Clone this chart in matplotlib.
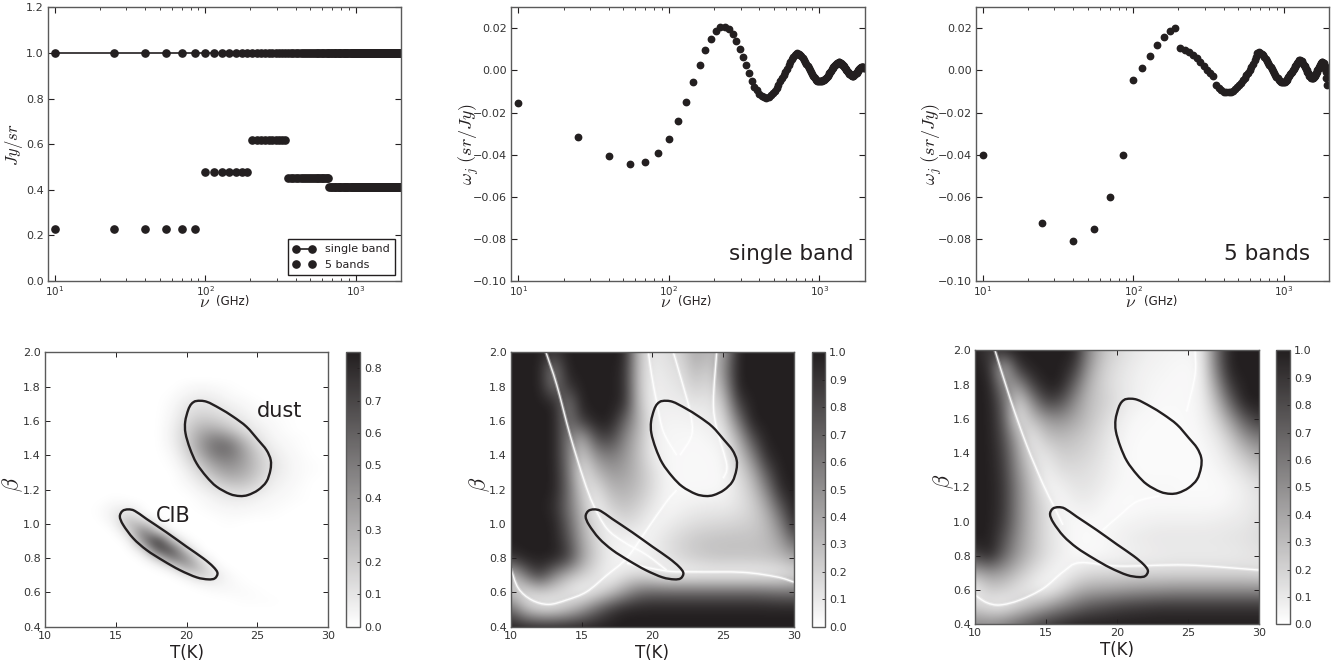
import numpy as np
import matplotlib
matplotlib.use("Agg")
import matplotlib.pyplot as plt
from matplotlib.colors import LinearSegmentedColormap
from matplotlib.path import Path
from matplotlib.patches import PathPatch
from matplotlib.ticker import FuncFormatter

INK = '#231f20'
EDGE = '#5a5a5a'
plt.rcParams.update({'font.family': 'DejaVu Sans', 'mathtext.fontset': 'cm', 'mathtext.default': 'it',
                     'text.color': INK, 'axes.labelcolor': INK, 'xtick.labelcolor': '#333333',
                     'ytick.labelcolor': '#333333', 'xtick.color': INK, 'ytick.color': INK,
                     'xtick.direction': 'in', 'ytick.direction': 'in', 'xtick.top': True, 'ytick.right': True,
                     'axes.edgecolor': EDGE, 'axes.linewidth': 1.0})

nu = [10,25,40,55,70,85,100,115,130,145,
      160,175,190,205,220,235,250,265,280,295,
      310,325,340,355,370,385,400,415,430,445,
      460,475,490,505,520,535,550,565,580,595,
      610,625,640,655,670,685,700,715,730,745,
      760,775,790,805,820,835,850,865,880,895,
      910,925,940,955,970,985,1000,1015,1030,1045,
      1060,1075,1090,1105,1120,1135,1150,1165,1180,1195,
      1210,1225,1240,1255,1270,1285,1300,1315,1330,1345,
      1360,1375,1390,1405,1420,1435,1450,1465,1480,1495,
      1510,1525,1540,1555,1570,1585,1600,1615,1630,1645,
      1660,1675,1690,1705,1720,1735,1750,1765,1780,1795,
      1810,1825,1840,1855,1870,1885,1900,1915,1930,1945,
      1960,1975,1990]
band_values = [0.228, 0.477, 0.617, 0.45, 0.41]
band_counts = [6, 7, 10, 21, 89]

w_single = [-.0155,-.0316,-.0408,-.0444,-.0437,-.0392,-.0324,-.0238,-.0148,-.0057,
            .0025,.0095,.0149,.0186,.0205,.0206,.0198,.0171,.0140,.0103,
            .0063,.0024,-.0014,-.0048,-.0078,-.0095,-.0110,-.0121,-.0128,-.0129,
            -.0126,-.0118,-.0108,-.0096,-.0082,-.0067,-.0051,-.0036,-.0020,-.0005,
            .0009,.0025,.0041,.0054,.0065,.0074,.0079,.0081,.0078,.0073,
            .0067,.0059,.0050,.0040,.0030,.0020,.0011,.0002,-.0007,-.0016,
            -.0024,-.0031,-.0037,-.0043,-.0048,-.0051,-.0052,-.0052,-.0052,-.0050,
            -.0047,-.0044,-.0040,-.0035,-.0030,-.0025,-.0019,-.0013,-.0007,-.0001,
            .0005,.0011,.0016,.0021,.0026,.0030,.0033,.0036,.0037,.0038,
            .0038,.0037,.0035,.0032,.0028,.0024,.0020,.0016,.0011,.0007,
            .0003,-.0001,-.0005,-.0009,-.0013,-.0016,-.0019,-.0021,-.0023,-.0024,
            -.0024,-.0024,-.0023,-.0021,-.0019,-.0016,-.0013,-.0010,-.0006,-.0002,
            .0002,.0005,.0008,.0011,.0013,.0014,.0015,.0016,.0016,.0016,
            .0015,.0014,.0013]
w_five = [-.0403,-.0724,-.0810,-.0751,-.0603,-.0402,-.0044,.0014,.0071,.0121,
          .0159,.0186,.0200,.0106,.0097,.0086,.0073,.0057,.0040,.0021,
          .0000,-.0014,-.0027,-.0071,-.0083,-.0093,-.0100,-.0103,-.0103,-.0101,
          -.0096,-.0089,-.0080,-.0070,-.0059,-.0047,-.0035,-.0023,-.0011,.0001,
          .0017,.0033,.0050,.0062,.0082,.0086,.0083,.0078,.0072,.0065,
          .0056,.0047,.0037,.0027,.0017,.0007,-.0003,-.0013,-.0022,-.0030,
          -.0038,-.0045,-.0051,-.0056,-.0057,-.0057,-.0056,-.0053,-.0049,-.0044,
          -.0039,-.0033,-.0026,-.0019,-.0012,-.0005,.0002,.0009,.0016,.0022,
          .0028,.0034,.0040,.0045,.0048,.0048,.0046,.0043,.0039,.0033,
          .0027,.0021,.0015,.0008,.0001,-.0006,-.0012,-.0018,-.0024,-.0028,
          -.0032,-.0035,-.0037,-.0037,-.0036,-.0033,-.0029,-.0024,-.0018,-.0012,
          -.0006,.0000,.0006,.0012,.0018,.0023,.0028,.0032,.0036,.0038,
          .0038,.0037,.0034,.0028,.0020,.0008,-.0008,-.0035,-.0067]

# grids: rows from beta=2.0 downward, columns T=10..30, percent
map_signal = [
 [0]*21, [0]*21, [0]*21, [0]*21,
 [0,0,0,0,0,0,0,0,0,0,2,3,2,1,0,0,0,0,0,0,0],
 [0,0,0,0,0,0,0,0,0,1,4,6,5,2,1,0,0,0,0,0,0],
 [0,0,0,0,0,0,0,0,0,2,8,11,9,5,3,1,0,0,0,0,0],
 [0,0,0,0,0,0,0,0,0,3,11,15,13,9,5,2,1,0,0,0,0],
 [0,0,0,0,0,0,0,0,0,4,14,22,20,14,9,4,2,1,0,0,0],
 [0,0,0,0,0,0,0,0,0,5,17,30,32,24,12,7,3,1,0,0,0],
 [0,0,0,0,0,0,0,0,0,5,18,36,48,42,24,10,4,2,1,0,0],
 [0,0,0,0,0,0,0,0,0,4,17,37,54,55,34,16,6,3,1,0,0],
 [0,0,0,0,0,0,0,0,0,2,13,31,49,52,38,20,9,4,2,0,0],
 [0,0,0,0,0,0,0,0,0,1,9,22,38,44,36,22,11,5,2,1,0],
 [0,0,0,0,0,0,0,0,0,0,5,15,28,36,32,21,10,5,2,1,0],
 [0,0,0,0,0,0,0,0,0,0,3,9,18,26,25,17,7,4,2,0,0],
 [0,0,0,0,0,0,0,0,0,0,1,5,10,15,16,11,5,3,1,0,0],
 [0,0,0,0,0,1,0,0,0,0,0,2,5,8,8,5,3,2,1,0,0],
 [0,0,0,0,1,5,5,0,0,0,0,1,3,4,4,3,2,1,0,0,0],
 [0,0,0,0,1,8,17,2,0,0,0,0,1,2,2,1,1,0,0,0,0],
 [0,0,0,0,0,4,28,25,3,0,0,0,0,1,0,0,0,0,0,0,0],
 [0,0,0,0,0,0,14,55,25,2,0,0,0,0,0,0,0,0,0,0,0],
 [0,0,0,0,0,0,2,45,82,22,2,0,0,0,0,0,0,0,0,0,0],
 [0,0,0,0,0,0,0,12,68,68,15,0,0,0,0,0,0,0,0,0,0],
 [0,0,0,0,0,0,0,1,18,55,45,8,0,0,0,0,0,0,0,0,0],
 [0,0,0,0,0,0,0,0,1,10,38,24,3,0,0,0,0,0,0,0,0],
 [0,0,0,0,0,0,0,0,0,0,6,20,10,2,0,0,0,0,0,0,0],
 [0,0,0,0,0,0,0,0,0,0,0,3,6,3,1,0,0,0,0,0,0],
 [0,0,0,0,0,0,0,0,0,0,0,0,1,2,2,1,0,0,0,0,0],
 [0,0,0,0,0,0,0,0,0,0,0,0,0,0,1,1,1,0,0,0,0],
 [0]*21, [0]*21, [0]*21,
]
map_single = [
 [100,100,100,90,100,100,100,100,100,25,10,15,20,40,30,40,100,100,100,100,100],
 [100,100,100,55,100,100,100,100,95,25,8,12,15,32,20,50,100,100,100,100,100],
 [100,100,100,60,90,100,100,100,95,25,7,10,12,22,15,40,100,100,100,100,100],
 [100,100,100,100,55,100,100,100,95,28,6,8,8,12,10,25,85,100,100,100,100],
 [100,100,100,100,60,88,100,100,70,35,8,5,5,6,8,15,60,100,100,100,100],
 [100,100,100,100,60,35,80,85,55,30,8,4,4,3,5,8,35,80,100,100,100],
 [100,100,100,100,60,20,50,60,48,28,8,4,3,3,3,5,22,55,95,100,100],
 [100,100,100,100,65,10,30,45,42,30,15,4,3,3,3,4,15,35,75,100,100],
 [100,100,100,100,68,20,12,32,35,28,15,5,3,3,3,4,12,25,55,95,100],
 [100,100,100,95,65,30,5,20,27,20,10,3,6,8,9,9,12,20,38,75,100],
 [100,100,100,100,72,35,12,8,16,12,4,8,12,15,17,18,20,22,30,55,95],
 [100,100,100,100,80,40,18,6,5,3,8,14,20,25,27,28,28,28,30,42,70],
 [92,100,100,100,88,45,20,8,4,5,8,12,18,22,25,26,26,26,27,30,40],
 [20,60,88,55,30,20,12,4,12,15,10,3,3,3,3,3,3,3,4,6,12],
 [25,8,15,15,10,3,10,25,45,65,70,70,70,70,70,70,70,70,68,65,65],
 [70,30,12,12,25,45,70,90,100,100,100,100,100,100,100,100,100,100,100,100,100],
 [100,100,100,100,100,100,100,100,100,100,100,100,100,100,100,100,100,100,100,100,100],
]
map_five = [
 [100,85,100,100,100,100,100,100,55,28,18,12,8,6,5,5,8,65,100,100,100],
 [100,95,25,90,100,100,100,90,45,22,14,9,6,5,4,3,6,60,100,100,100],
 [100,100,50,45,85,100,100,70,35,20,12,8,5,4,3,3,6,45,90,100,100],
 [100,100,70,15,50,85,80,52,30,22,14,8,5,3,3,3,6,30,70,100,100],
 [100,100,75,10,28,45,50,40,28,18,10,4,3,2,2,3,5,18,45,75,90],
 [100,100,80,35,8,28,32,28,22,14,7,3,2,2,2,2,4,10,25,50,62],
 [100,100,85,45,12,12,22,22,18,12,6,2,2,2,2,2,3,6,15,28,42],
 [100,100,88,50,22,6,15,16,14,10,5,3,2,2,2,2,2,4,8,15,25],
 [100,100,90,55,28,5,6,12,12,8,4,3,3,3,3,2,2,2,4,8,14],
 [100,100,90,55,30,15,3,7,8,4,2,2,3,3,3,3,3,3,5,8,12],
 [100,100,88,55,30,15,6,3,3,3,4,5,6,7,7,7,7,8,9,10,14],
 [100,100,80,50,30,15,8,3,2,4,6,9,10,11,11,11,11,11,12,13,16],
 [85,100,70,45,28,15,8,3,3,3,5,6,7,8,9,9,9,9,9,10,12],
 [35,45,42,28,15,7,3,10,15,16,16,16,16,16,16,16,16,16,16,16,14],
 [5,22,20,12,8,4,15,30,38,40,42,45,47,48,50,50,50,50,50,50,50],
 [20,8,6,18,30,42,55,65,75,80,85,88,90,92,92,92,92,92,92,92,92],
 [55,55,60,70,80,90,95,100,100,100,100,100,100,100,100,100,100,100,100,100,100],
]

dust_T = [20.7,21.41,22.35,23.29,24.24,25.06,25.65,25.95,25.93,25.65,25.06,24.35,23.76,23.06,22.12,21.41,20.71,20.24,19.93,19.91,20.12,20.35]
dust_b = [1.716,1.712,1.673,1.625,1.566,1.489,1.430,1.372,1.314,1.246,1.197,1.168,1.162,1.174,1.217,1.275,1.353,1.440,1.528,1.596,1.664,1.699]
cib_T = [15.88,16.35,17.18,18.59,20.0,21.18,21.88,22.19,22.0,21.53,20.71,19.53,18.35,17.18,16.24,15.53,15.29,15.48]
cib_b = [1.084,1.075,1.028,.950,.867,.799,.750,.713,.682,.676,.688,.730,.785,.847,.915,.993,1.042,1.075]

valleys_single = [
 ([12.49,13.25,14.19,15.13,15.84,16.78,17.95,19.6,21.0],[2.0,1.81,1.518,1.265,1.11,.973,.896,.818,.73]),
 ([10,10.54,11.48,12.66,13.95,15.36,16.78,18.19,19.6,21.0,21.72],[.74,.624,.556,.53,.556,.604,.70,.80,.964,1.129,1.197]),
 ([18.2,21.0,22.9,26.4,28.8,30],[.77,.725,.72,.717,.69,.66]),
 ([19.72,19.95,20.3,20.78,21.72],[2.0,1.868,1.712,1.537,1.40]),
 ([21.48,21.95,22.66,22.78,21.95],[2.0,1.868,1.654,1.518,1.40]),
 ([24.54,24.31,24.54,25.25,25.0],[2.0,1.712,1.557,1.343,1.265]),
]
valleys_five = [
 ([11.41,12.47,13.64,14.82,15.52,16.2],[2.0,1.72,1.447,1.214,1.097,.98]),
 ([10,10.82,11.76,13.17,14.82,16.23,17.4,20.22,24.92,30],[.571,.527,.513,.542,.61,.708,.76,.74,.746,.717]),
 ([25.51,25.51,24.92],[2.0,1.856,1.642]),
 ([19.0,20.22,21.4,23.0],[.95,1.038,1.116,1.15]),
]

W, H = 1344, 668
fig = plt.figure(figsize=(W/100, H/100), dpi=100)
def box(x0, y0, x1, y1):
    return fig.add_axes([x0/W, 1-y1/H, (x1-x0)/W, (y1-y0)/H])

cmap = LinearSegmentedColormap.from_list('ink', ['#ffffff', INK])
TICK = 8.5

def smooth_path(xs, ys, closed=False):
    """A curve through the read knots (Catmull-Rom segments as Bezier curves)."""
    p = np.column_stack([xs, ys]).astype(float)
    n = len(p)
    verts = [p[0]]
    codes = [Path.MOVETO]
    for i in range(n if closed else n-1):
        p0 = p[(i-1) % n] if (closed or i > 0) else p[i]
        p1, p2 = p[i], p[(i+1) % n]
        p3 = p[(i+2) % n] if (closed or i+2 < n) else p2
        verts += [p1+(p2-p0)/6, p2-(p3-p1)/6, p2]
        codes += [Path.CURVE4]*3
    return Path(verts, codes)

def log_label(v, pos):
    return r'$\mathregular{10^{%d}}$' % round(np.log10(v))

def style_top(ax, nu_x, ghz_x):
    ax.set_xscale('log')
    ax.set_xlim(9, 2000)
    ax.xaxis.set_major_formatter(FuncFormatter(log_label))
    ax.tick_params(which='major', labelsize=TICK-0.5, length=4, width=0.8, pad=3)
    ax.tick_params(which='minor', length=2, width=0.6)
    ax.tick_params(axis='x', labelsize=TICK-1, pad=2)
    fig.text(nu_x/W, 1-307/H, r'$\nu$', fontsize=12.5, ha='center', va='baseline')
    fig.text(ghz_x/W, 1-305.5/H, '(GHz)', fontsize=8.5, ha='left', va='baseline')

def label_y(ax, text, size, px, x0, x1):
    ax.set_ylabel(text, fontsize=size)
    ax.yaxis.set_label_coords((px-x0)/(x1-x0), 0.5)

# top row
ax1 = box(47.7, 7.3, 401, 281)
ax1.plot(nu, [1.0]*len(nu), '-o', color=INK, ms=5.2, lw=1.2, label='single band')
ax1.plot(nu, np.repeat(band_values, band_counts), 'o', color=INK, ms=5.2, label='5 bands')
style_top(ax1, 205, 215.7)
ax1.set_ylim(0, 1.2)
ax1.set_yticks(np.arange(0, 1.21, 0.2))
label_y(ax1, r'$Jy/sr$', 12, 25, 47.7, 401)
leg = ax1.legend(loc='lower right', numpoints=2, fontsize=8, fancybox=False, framealpha=1,
                 edgecolor=INK, bbox_to_anchor=(0.983, 0.022), borderaxespad=0, handlelength=2.0,
                 handletextpad=0.9, labelspacing=0.5, borderpad=0.45)

for x0, x1, ws, txt, tx, lx, nx, gx in [(511.3, 864.7, w_single, 'single band', 729, 481, 666, 678),
                                        (975.7, 1329, w_five, '5 bands', 1224, 944, 1131, 1144)]:
    ax = box(x0, 7.3, x1, 281)
    ax.plot(nu[:len(ws)], ws, 'o', color=INK, ms=4.6)
    style_top(ax, nx, gx)
    ax.set_ylim(-0.10, 0.03)
    ax.set_yticks(np.arange(-0.10, 0.021, 0.02))
    ax.set_yticklabels(['\u22120.10', '\u22120.08', '\u22120.06', '\u22120.04', '\u22120.02', '0.00', '0.02'])
    label_y(ax, r'$\omega_j\ (sr/Jy)$', 13, lx, x0, x1)
    fig.text(tx/W, 1-260/H, txt, fontsize=15.5, color=INK, ha='left', va='baseline')

# bottom row
def heat(x0, y0, x1, y1, cx0, cx1, grid, vmax, cticks, valleys, lx):
    ax = box(x0, y0, x1, y1)
    arr = np.array(grid, dtype=float)/100
    dT = 1.0
    db = 1.6/(arr.shape[0]-1)
    im = ax.imshow(arr, cmap=cmap, vmin=0, vmax=vmax, aspect='auto', interpolation='bicubic',
                   extent=[10-dT/2, 30+dT/2, 0.4-db/2, 2.0+db/2], origin='upper')
    for vt, vb in valleys:
        ax.add_patch(PathPatch(smooth_path(vt, vb), fc='none', ec='white', lw=2.6, alpha=0.3))
        ax.add_patch(PathPatch(smooth_path(vt, vb), fc='none', ec='white', lw=1.0, alpha=0.9))
    ax.add_patch(PathPatch(smooth_path(dust_T, dust_b, True), fc='none', ec=INK, lw=1.7))
    ax.add_patch(PathPatch(smooth_path(cib_T, cib_b, True), fc='none', ec=INK, lw=1.7))
    ax.set_xlim(10, 30)
    ax.set_ylim(0.4, 2.0)
    ax.set_xticks(range(10, 31, 5))
    ax.set_yticks(np.arange(0.4, 2.01, 0.2))
    ax.tick_params(labelsize=TICK-0.5, length=3.5, width=0.7, pad=3)
    ax.set_xlabel('T(K)', fontsize=12, labelpad=2)
    ax.set_ylabel(r'$\beta$', fontsize=16)
    ax.yaxis.set_label_coords((lx-x0)/(x1-x0), 0.52)
    cax = box(cx0, y0, cx1, y1)
    cb = fig.colorbar(im, cax=cax)
    cb.set_ticks(cticks)
    cb.ax.tick_params(labelsize=TICK-0.5, length=2.5, width=0.6, direction='in', pad=3, left=False, right=True)
    cb.outline.set_edgecolor(EDGE)
    cb.outline.set_linewidth(1.0)
    return ax

a4 = heat(45, 352.3, 328, 626.7, 346, 360, map_signal, 0.85, np.arange(0, 0.81, 0.1), [], 25)
a4.text(25, 1.62, 'dust', fontsize=15, color=INK, ha='left', va='baseline')
a4.text(17.85, 1.01, 'CIB', fontsize=15, color=INK, ha='left', va='baseline')
heat(510.7, 352.3, 794, 626.7, 811.7, 825, map_single, 1.0, np.arange(0, 1.01, 0.1), valleys_single, 492)
heat(975, 350.3, 1258.7, 624.3, 1276, 1290, map_five, 1.0, np.arange(0, 1.01, 0.1), valleys_five, 956)

fig.savefig('out.png', dpi=100)
